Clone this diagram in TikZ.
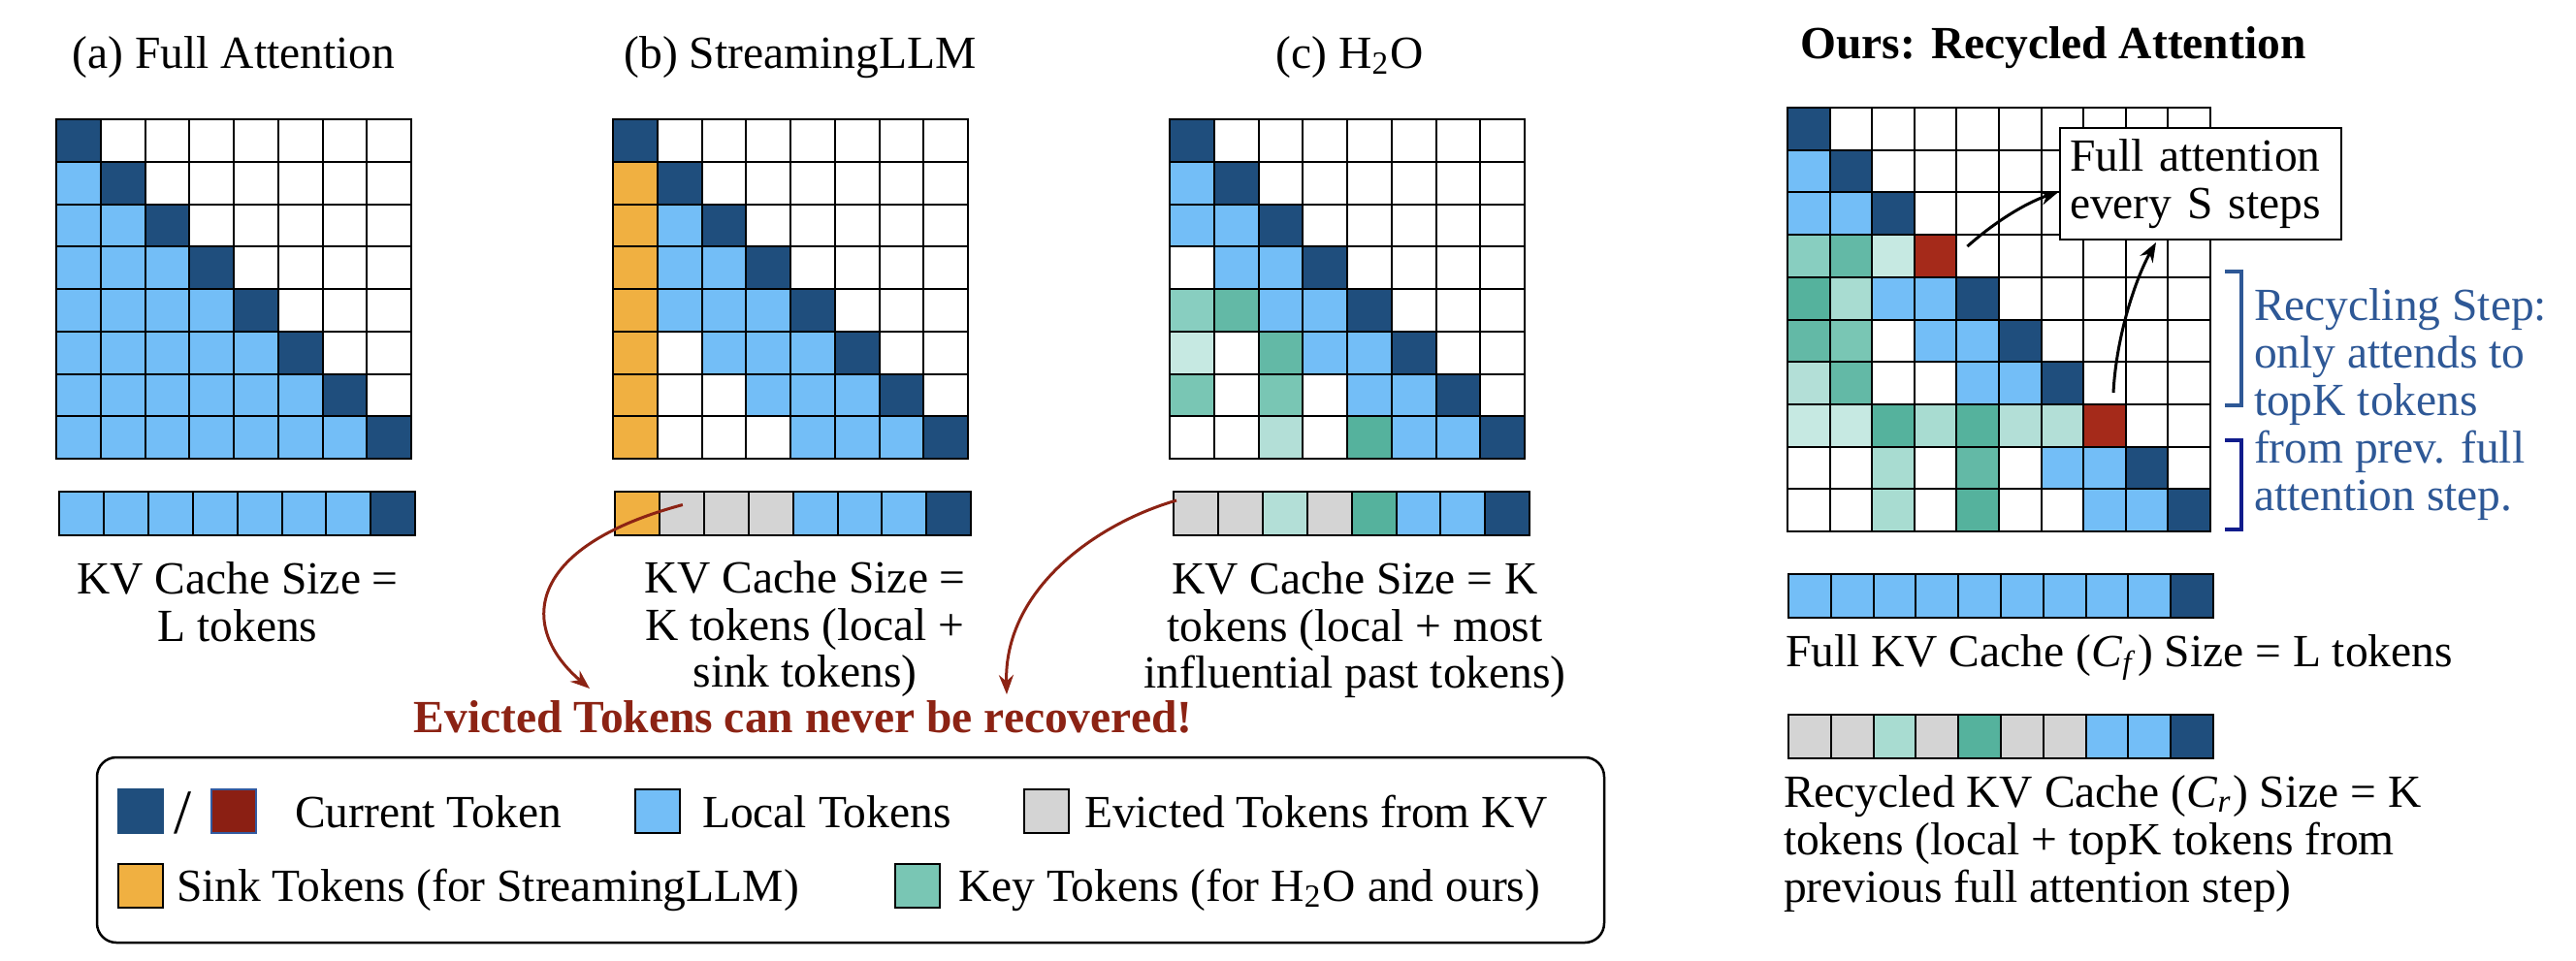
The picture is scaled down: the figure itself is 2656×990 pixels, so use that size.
\documentclass[tikz,border=0pt]{standalone}
\usepackage{fontspec}
\setmainfont{Liberation Serif}
\usetikzlibrary{arrows.meta,positioning,calc}

% cell colours
\definecolor{kD}{RGB}{31,78,125}
\definecolor{kL}{RGB}{115,190,247}
\definecolor{kW}{RGB}{255,255,255}
\definecolor{kO}{RGB}{240,176,65}
\definecolor{kG}{RGB}{212,212,212}
\definecolor{kR}{RGB}{165,42,26}
\definecolor{kS}{RGB}{85,178,157}
\definecolor{kN}{RGB}{99,185,166}
\definecolor{kM}{RGB}{121,198,180}
\definecolor{kU}{RGB}{136,206,192}
\definecolor{kT}{RGB}{168,220,209}
\definecolor{kP}{RGB}{179,223,215}
\definecolor{kV}{RGB}{198,233,226}
% other colours
\definecolor{redlg}{RGB}{139,31,19}
\definecolor{evict}{RGB}{140,35,20}
\definecolor{recyc}{RGB}{46,88,150}
\definecolor{navy}{RGB}{16,28,140}

\tikzset{
  cell/.style={draw=black, line width=0.4pt, inner sep=0pt, outer sep=0pt, anchor=north west,
    minimum width=9.15pt, minimum height=8.75pt},
  ocell/.style={cell, minimum width=8.72pt, minimum height=8.74pt},
  kvbar/.style={cell, minimum width=9.18pt, minimum height=9pt},
  okvbar/.style={cell, minimum width=8.76pt, minimum height=9pt},
  legsq/.style={cell, minimum width=9.2pt, minimum height=9pt},
  evarrow/.style={-{Stealth[length=4pt, width=3pt]}, draw=evict, line width=0.6pt},
  fullarrow/.style={-{Stealth[length=4pt, width=3pt]}, line width=0.6pt},
  txt/.style={inner sep=0pt},
}

% name, x, y, step x, step y, cell style, rows of colour letters
\newcommand{\attgrid}[7]{%
  \foreach \row [count=\r from 0] in {#7} {
    \foreach \col [count=\c from 0] in \row {
      \node[#6, fill=k\col] (#1-\r-\c) at ({#2+#4*\c},{#3+#5*\r}) {};
    }
  }%
}

\begin{document}
\begin{tikzpicture}[x=0.2pt, y=-0.2pt, font=\fontsize{9.5}{9.7}\selectfont]
\useasboundingbox (0,0) rectangle (2656,990);

% titles
\node[txt, anchor=base] (ta) at (241,70) {(a) Full Attention};
\node[txt, anchor=base] (tb) at (825,70) {(b) StreamingLLM};
\node[txt, anchor=base] (tc) at (1392,70) {(c) H\textsubscript{2}O};
\node[txt, anchor=base, font=\fontsize{9.5}{9.7}\selectfont\bfseries] (to) at (2117,60) {Ours: Recycled Attention};

% (a) full attention
\attgrid{a}{58}{123}{45.75}{43.75}{cell}{{D,W,W,W,W,W,W,W},{L,D,W,W,W,W,W,W},{L,L,D,W,W,W,W,W},{L,L,L,D,W,W,W,W},
  {L,L,L,L,D,W,W,W},{L,L,L,L,L,D,W,W},{L,L,L,L,L,L,D,W},{L,L,L,L,L,L,L,D}}
\attgrid{ab}{61}{507}{45.9}{0}{kvbar}{{L,L,L,L,L,L,L,D}}
\node[txt, anchor=north, align=center] (ka) at (245,579) {KV Cache Size =\\L tokens};

% (b) streaming
\attgrid{b}{632}{123}{45.75}{43.75}{cell}{{D,W,W,W,W,W,W,W},{O,D,W,W,W,W,W,W},{O,L,D,W,W,W,W,W},{O,L,L,D,W,W,W,W},
  {O,L,L,L,D,W,W,W},{O,W,L,L,L,D,W,W},{O,W,W,L,L,L,D,W},{O,W,W,W,L,L,L,D}}
\attgrid{bb}{634}{507}{45.9}{0}{kvbar}{{O,G,G,G,L,L,L,D}}
\node[txt, anchor=north, align=center] (kb) at (830,578) {KV Cache Size =\\K tokens (local +\\sink tokens)};

% (c) h2o
\attgrid{c}{1206}{123}{45.75}{43.75}{cell}{{D,W,W,W,W,W,W,W},{L,D,W,W,W,W,W,W},{L,L,D,W,W,W,W,W},{W,L,L,D,W,W,W,W},
  {U,N,L,L,D,W,W,W},{V,W,N,L,L,D,W,W},{M,W,M,W,L,L,D,W},{W,W,P,W,S,L,L,D}}
\attgrid{cb}{1210}{507}{45.9}{0}{kvbar}{{G,G,P,G,S,L,L,D}}
\node[txt, anchor=north, align=center] (kc) at (1397,579) {KV Cache Size = K\\tokens (local + most\\influential past tokens)};

% evicted
\node[txt, anchor=base, text=evict, font=\fontsize{9.5}{9.7}\selectfont\bfseries] (evt) at (828,755) {Evicted Tokens can never be recovered!};
\coordinate (evb) at ($(bb-0-1.center)+(1,-9)$);
\coordinate (evc) at ($(cb-0-0.north west)+(3,9)$);
\draw[evarrow] (evb) .. controls +(-164,44) and +(-73,-62) .. ($(evt.north)+(-220,-11)$);
\draw[evarrow] (evc) .. controls +(-83,24) and +(-3,-108) .. ($(evt.north)+(210,-5)$);

% legend
\draw[line width=0.5pt, rounded corners=4pt] (100,781) rectangle (1654,972);
\node[legsq, fill=kD, draw=kD] (lcur) at (122,814) {};
\node[txt, font=\fontsize{13}{13}\selectfont] (lsl) at (189,838) {/};
\node[legsq, fill=redlg, draw={rgb,255:red,50;green,90;blue,160}] (lred) at (218,814) {};
\node[txt, anchor=base west] (tcur) at (303,853) {Current Token};
\node[legsq, fill=kL] (lloc) at (655,814) {};
\node[txt, anchor=base west] (tloc) at (723,853) {Local Tokens};
\node[legsq, fill=kG] (levi) at (1056,814) {};
\node[txt, anchor=base west] (tevi) at (1117,853) {Evicted Tokens from KV};
\node[legsq, fill=kO] (lsink) at (122,891) {};
\node[txt, anchor=base west] (tsink) at (181,929) {Sink Tokens (for StreamingLLM)};
\node[legsq, fill=kM] (lkey) at (923,891) {};
\node[txt, anchor=base west] (tkey) at (987,929) {Key Tokens (for H\textsubscript{2}O and ours)};

% ours: recycled attention
\attgrid{o}{1843}{111}{43.6}{43.7}{ocell}{{D,W,W,W,W,W,W,W,W,W},{L,D,W,W,W,W,W,W,W,W},{L,L,D,W,W,W,W,W,W,W},
  {U,N,V,R,W,W,W,W,W,W},{S,T,L,L,D,W,W,W,W,W},{N,M,W,L,L,D,W,W,W,W},{P,N,W,W,L,L,D,W,W,W},
  {V,V,S,T,S,P,P,R,W,W},{W,W,T,W,N,W,L,L,D,W},{W,W,T,W,S,W,W,L,L,D}}
\node[draw, fill=white, line width=0.4pt, align=left, text width=54pt, inner sep=2pt,
  minimum height=23pt, font=\fontsize{9.5}{9.9}\selectfont] (fab) at (2269,189.5) {Full attention\\every S steps};
\draw[fullarrow] ($(o-3-4.north west)+(11,12)$) .. controls +(28,-25) and +(-35,12) .. ($(fab.west)+(0,8)$);
\draw[fullarrow] ($(o-7-7.north)+(9,-12)$) .. controls +(3,-60) and +(-20,35) .. ($(fab.south)+(-46,2)$);

% recycling brackets
\draw[recyc, line width=0.8pt] (2294,280) -- (2311,280) -- (2311,418) -- (2294,418);
\draw[navy, line width=0.8pt] (2294,454) -- (2311,454) -- (2311,546) -- (2294,546);
\node[txt, anchor=north west, align=left, text=recyc, font=\fontsize{9.5}{9.8}\selectfont] (rstep) at (2323,297)
  {Recycling Step:\\only attends to\\topK tokens\\from prev. full\\attention step.};

% caches
\attgrid{of}{1844}{592}{43.8}{0}{okvbar}{{L,L,L,L,L,L,L,L,L,D}}
\node[txt, anchor=base west] (fkv) at (1840,687) {Full KV Cache (\textit{C}\textsubscript{\textit{f}}) Size = L tokens};
\attgrid{or}{1844}{737}{43.8}{0}{okvbar}{{G,G,T,G,S,G,G,L,L,D}}
\node[txt, anchor=north west, align=left, font=\fontsize{9.5}{9.8}\selectfont] (rkv) at (1838,799)
  {Recycled KV Cache (\textit{C}\textsubscript{\textit{r}}) Size = K\\tokens (local + topK tokens from\\previous full attention step)};
\end{tikzpicture}
\end{document}
